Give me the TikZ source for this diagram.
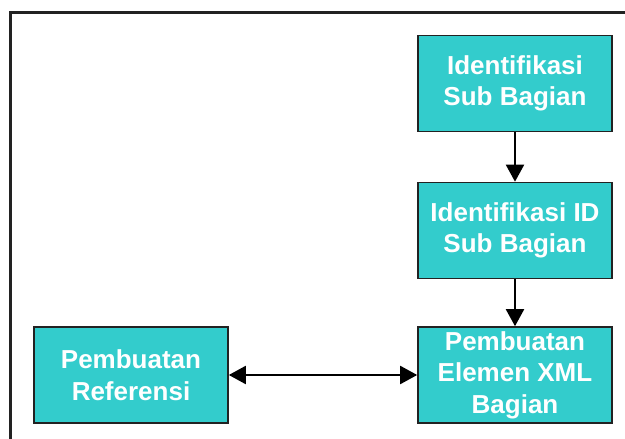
\documentclass[tikz,border=0pt]{standalone}
\usepackage{fontspec}
\setmainfont{Liberation Sans}
\usetikzlibrary{arrows.meta}
\definecolor{boxfill}{HTML}{33CCCC}
\definecolor{edge}{HTML}{222222}
\tikzset{
  procbox/.style={draw=edge, line width=1.6pt, fill=boxfill, text=white,
    minimum width=194pt, minimum height=96pt, inner sep=0pt, align=center,
    font=\fontsize{26}{31.5}\selectfont\bfseries},
  conn/.style={line width=2pt, draw=black, -{Triangle[width=18pt,length=17pt]}},
  dconn/.style={line width=2pt, draw=black, {Triangle[width=18pt,length=17pt]}-{Triangle[width=18pt,length=17pt]}}
}
\begin{document}
\begin{tikzpicture}[x=1pt,y=-1pt]
\useasboundingbox (0,0) rectangle (625,439);
\clip (0,0) rectangle (625,439);
\fill[white] (0,0) rectangle (625,439);
\draw[line width=3pt, draw=edge] (10,12) rectangle (660,480);
\node[procbox] (a) at (515,83.5) {Identifikasi\\Sub Bagian};
\node[procbox] (b) at (515,230.5) {Identifikasi ID\\Sub Bagian};
\node[procbox] (c) at (515,375) {Pembuatan\\Elemen XML\\Bagian};
\node[procbox] (d) at (131,375) {Pembuatan\\Referensi};
\draw[conn] (a) -- (b);
\draw[conn] (b) -- (c);
\draw[dconn] (d) -- (c);
\end{tikzpicture}
\end{document}
